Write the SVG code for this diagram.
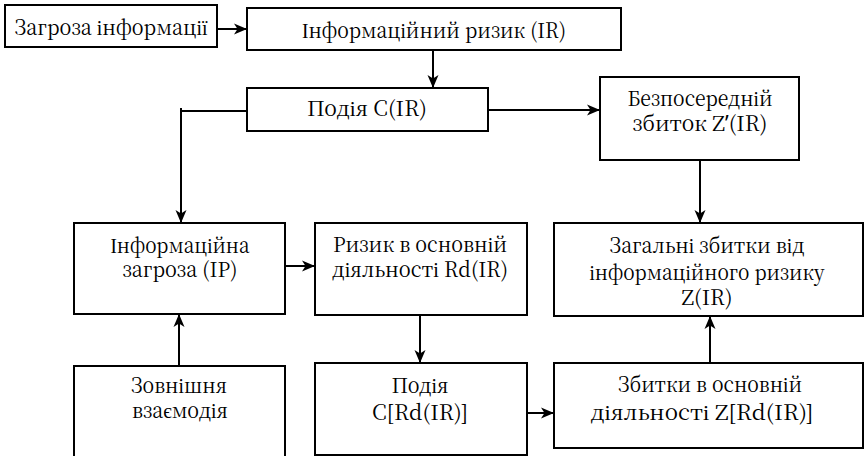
<svg xmlns="http://www.w3.org/2000/svg" width="864" height="456" viewBox="0 0 864 456">
<defs>
<marker id="ah" markerUnits="userSpaceOnUse" markerWidth="14" markerHeight="12" refX="13" refY="6" orient="auto">
<path d="M0,0.5 L13,6 L0,11.5 L3.5,6 z" fill="#000"/>
</marker>
<style>
.box{fill:#fff;stroke:#000;stroke-width:2}
.t{font-family:'Noto Serif CJK SC','Liberation Serif',serif;font-size:21px;fill:#000;text-anchor:middle}
.q{font-family:'Noto Sans','Liberation Sans',sans-serif}
.c{fill:none;stroke:#000;stroke-width:2}
.a{marker-end:url(#ah)}
</style>
</defs>
<rect width="864" height="456" fill="#fff"/>
<g id="n1"><rect class="box" x="5" y="5" width="212" height="42"/><text class="t" x="111" y="35" textLength="193" lengthAdjust="spacingAndGlyphs">Загроза інформації</text></g>
<g id="n2"><rect class="box" x="247" y="8" width="374" height="42"/><text class="t" x="434" y="38" textLength="264" lengthAdjust="spacingAndGlyphs">Інформаційний ризик (IR)</text></g>
<g id="n3"><rect class="box" x="247" y="88" width="241" height="43"/><text class="t" x="367" y="116" textLength="120" lengthAdjust="spacingAndGlyphs">Подія С(IR)</text></g>
<g id="n4"><rect class="box" x="600" y="77" width="199" height="83"/><text class="t" x="700" y="106" textLength="145" lengthAdjust="spacingAndGlyphs">Безпосередній</text><text class="t" x="700" y="131" textLength="135" lengthAdjust="spacingAndGlyphs">збиток Z<tspan class="q">’</tspan>(IR)</text></g>
<g id="n5"><rect class="box" x="74" y="223" width="211" height="91"/><text class="t" x="180" y="253" textLength="139" lengthAdjust="spacingAndGlyphs">Інформаційна</text><text class="t" x="180" y="277" textLength="115" lengthAdjust="spacingAndGlyphs">загроза (IP)</text></g>
<g id="n6"><rect class="box" x="315" y="223" width="212" height="92"/><text class="t" x="420" y="252" textLength="174" lengthAdjust="spacingAndGlyphs">Ризик в основній</text><text class="t" x="420" y="277" textLength="176" lengthAdjust="spacingAndGlyphs">діяльності Rd(IR)</text></g>
<g id="n7"><rect class="box" x="554" y="223" width="309" height="93"/><text class="t" x="707" y="253" textLength="195" lengthAdjust="spacingAndGlyphs">Загальні збитки від</text><text class="t" x="707" y="280" textLength="235" lengthAdjust="spacingAndGlyphs">інформаційного ризику</text><text class="t" x="707" y="305" textLength="51" lengthAdjust="spacingAndGlyphs">Z(IR)</text></g>
<g id="n8"><rect class="box" x="74" y="366" width="211" height="96"/><text class="t" x="179" y="393" textLength="96" lengthAdjust="spacingAndGlyphs">Зовнішня</text><text class="t" x="180" y="418" textLength="96" lengthAdjust="spacingAndGlyphs">взаємодія</text></g>
<g id="n9"><rect class="box" x="315" y="363" width="212" height="92"/><text class="t" x="420" y="393" textLength="57" lengthAdjust="spacingAndGlyphs">Подія</text><text class="t" x="420" y="420" textLength="96" lengthAdjust="spacingAndGlyphs">C[Rd(IR)]</text></g>
<g id="n10"><rect class="box" x="554" y="363" width="309" height="85"/><text class="t" x="710" y="392" textLength="184" lengthAdjust="spacingAndGlyphs">Збитки в основній</text><text class="t" x="702" y="420" textLength="223" lengthAdjust="spacingAndGlyphs">діяльності Z[Rd(IR)]</text></g>
<g id="connectors">
<line class="c a" x1="217" y1="29" x2="247" y2="29"/>
<line class="c a" x1="433" y1="50" x2="433" y2="88"/>
<line class="c a" x1="488" y1="110" x2="600" y2="110"/>
<polyline class="c" points="247,111 181,111"/>
<line class="c a" x1="181" y1="108" x2="181" y2="223"/>
<line class="c a" x1="700" y1="160" x2="700" y2="223"/>
<line class="c a" x1="285" y1="266" x2="315" y2="266"/>
<line class="c a" x1="420" y1="315" x2="420" y2="363"/>
<line class="c a" x1="179" y1="366" x2="179" y2="314"/>
<line class="c a" x1="527" y1="413" x2="554" y2="413"/>
<line class="c a" x1="710" y1="363" x2="710" y2="316"/>
</g>
</svg>
